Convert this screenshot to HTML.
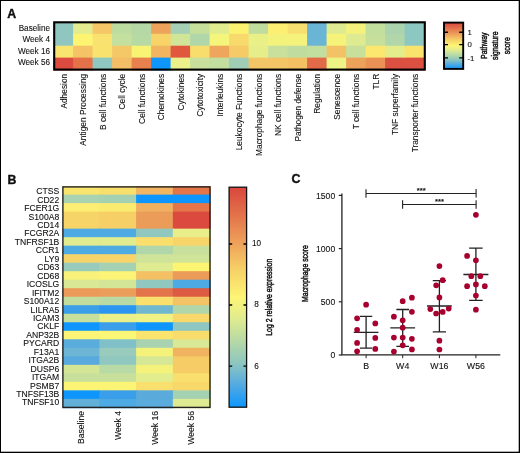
<!DOCTYPE html>
<html><head><meta charset="utf-8"><title>Figure</title>
<style>html,body{margin:0;padding:0;background:#fff;width:520px;height:453px;overflow:hidden}
svg text{font-family:"Liberation Sans", sans-serif;fill:#111;stroke:#111;stroke-width:0.1px}</style></head>
<body>
<svg width="520" height="453" viewBox="0 0 520 453" style="position:absolute;left:0;top:0;will-change:transform">
<defs>
<linearGradient id="g1" x1="0" y1="0" x2="0" y2="1"><stop offset="0" stop-color="#d9473d"/><stop offset="0.12" stop-color="#e2704a"/><stop offset="0.25" stop-color="#eea05a"/><stop offset="0.37" stop-color="#f6cf66"/><stop offset="0.5" stop-color="#fdf575"/><stop offset="0.6" stop-color="#dfeb90"/><stop offset="0.7" stop-color="#b6d9a6"/><stop offset="0.8" stop-color="#8ec6c0"/><stop offset="0.9" stop-color="#52aae2"/><stop offset="1" stop-color="#0c96fd"/></linearGradient>
</defs>
<rect width="520" height="453" fill="#fff"/>
<text x="7.2" y="18.4" font-size="12.3" font-weight="bold" style="stroke-width:0.4px">A</text>
<rect x="53.6" y="21.9" width="20.5" height="12.9" fill="#8fc7c0"/>
<rect x="53.6" y="33.8" width="20.5" height="12.9" fill="#8fc7c0"/>
<rect x="53.6" y="45.7" width="20.5" height="12.9" fill="#fae470"/>
<rect x="53.6" y="57.6" width="20.5" height="12.9" fill="#db4b3f"/>
<rect x="73.1" y="21.9" width="20.5" height="12.9" fill="#e3ec8e"/>
<rect x="73.1" y="33.8" width="20.5" height="12.9" fill="#fdf572"/>
<rect x="73.1" y="45.7" width="20.5" height="12.9" fill="#f4c366"/>
<rect x="73.1" y="57.6" width="20.5" height="12.9" fill="#e57149"/>
<rect x="92.6" y="21.9" width="20.5" height="12.9" fill="#f5c766"/>
<rect x="92.6" y="33.8" width="20.5" height="12.9" fill="#f9e270"/>
<rect x="92.6" y="45.7" width="20.5" height="12.9" fill="#f9e36e"/>
<rect x="92.6" y="57.6" width="20.5" height="12.9" fill="#8fc8c0"/>
<rect x="112.1" y="21.9" width="20.5" height="12.9" fill="#bddca0"/>
<rect x="112.1" y="33.8" width="20.5" height="12.9" fill="#c3e09e"/>
<rect x="112.1" y="45.7" width="20.5" height="12.9" fill="#f4c767"/>
<rect x="112.1" y="57.6" width="20.5" height="12.9" fill="#f4be66"/>
<rect x="131.6" y="21.9" width="20.5" height="12.9" fill="#b5d8a5"/>
<rect x="131.6" y="33.8" width="20.5" height="12.9" fill="#b7d9a4"/>
<rect x="131.6" y="45.7" width="20.5" height="12.9" fill="#f9f373"/>
<rect x="131.6" y="57.6" width="20.5" height="12.9" fill="#e8804e"/>
<rect x="151.1" y="21.9" width="20.5" height="12.9" fill="#eda45a"/>
<rect x="151.1" y="33.8" width="20.5" height="12.9" fill="#f8d468"/>
<rect x="151.1" y="45.7" width="20.5" height="12.9" fill="#f1b460"/>
<rect x="151.1" y="57.6" width="20.5" height="12.9" fill="#0f96fc"/>
<rect x="170.6" y="21.9" width="20.5" height="12.9" fill="#a5d0b5"/>
<rect x="170.6" y="33.8" width="20.5" height="12.9" fill="#d1e598"/>
<rect x="170.6" y="45.7" width="20.5" height="12.9" fill="#e0593f"/>
<rect x="170.6" y="57.6" width="20.5" height="12.9" fill="#ecf08a"/>
<rect x="190.1" y="21.9" width="20.5" height="12.9" fill="#c6e09c"/>
<rect x="190.1" y="33.8" width="20.5" height="12.9" fill="#b0d6aa"/>
<rect x="190.1" y="45.7" width="20.5" height="12.9" fill="#f8dc6c"/>
<rect x="190.1" y="57.6" width="20.5" height="12.9" fill="#c8e09c"/>
<rect x="209.6" y="21.9" width="20.5" height="12.9" fill="#e1ec8e"/>
<rect x="209.6" y="33.8" width="20.5" height="12.9" fill="#f5f47b"/>
<rect x="209.6" y="45.7" width="20.5" height="12.9" fill="#eda65c"/>
<rect x="209.6" y="57.6" width="20.5" height="12.9" fill="#c3df9f"/>
<rect x="229.1" y="21.9" width="20.5" height="12.9" fill="#fcf272"/>
<rect x="229.1" y="33.8" width="20.5" height="12.9" fill="#f8d96c"/>
<rect x="229.1" y="45.7" width="20.5" height="12.9" fill="#f5ca67"/>
<rect x="229.1" y="57.6" width="20.5" height="12.9" fill="#9fcdb6"/>
<rect x="248.6" y="21.9" width="20.5" height="12.9" fill="#c0dd9e"/>
<rect x="248.6" y="33.8" width="20.5" height="12.9" fill="#eaf088"/>
<rect x="248.6" y="45.7" width="20.5" height="12.9" fill="#e6ee8a"/>
<rect x="248.6" y="57.6" width="20.5" height="12.9" fill="#f3c566"/>
<rect x="268.1" y="21.9" width="20.5" height="12.9" fill="#fdef72"/>
<rect x="268.1" y="33.8" width="20.5" height="12.9" fill="#f3f27d"/>
<rect x="268.1" y="45.7" width="20.5" height="12.9" fill="#c8e09c"/>
<rect x="268.1" y="57.6" width="20.5" height="12.9" fill="#f3c566"/>
<rect x="287.6" y="21.9" width="20.5" height="12.9" fill="#f8e070"/>
<rect x="287.6" y="33.8" width="20.5" height="12.9" fill="#f5f27b"/>
<rect x="287.6" y="45.7" width="20.5" height="12.9" fill="#c0dd9f"/>
<rect x="287.6" y="57.6" width="20.5" height="12.9" fill="#f3c064"/>
<rect x="307.1" y="21.9" width="20.5" height="12.9" fill="#6ab5d5"/>
<rect x="307.1" y="33.8" width="20.5" height="12.9" fill="#6ab5d5"/>
<rect x="307.1" y="45.7" width="20.5" height="12.9" fill="#c3df9f"/>
<rect x="307.1" y="57.6" width="20.5" height="12.9" fill="#e26a48"/>
<rect x="326.6" y="21.9" width="20.5" height="12.9" fill="#dfeb90"/>
<rect x="326.6" y="33.8" width="20.5" height="12.9" fill="#f5f37a"/>
<rect x="326.6" y="45.7" width="20.5" height="12.9" fill="#f3c266"/>
<rect x="326.6" y="57.6" width="20.5" height="12.9" fill="#eef385"/>
<rect x="346.1" y="21.9" width="20.5" height="12.9" fill="#f4f27c"/>
<rect x="346.1" y="33.8" width="20.5" height="12.9" fill="#dfeb90"/>
<rect x="346.1" y="45.7" width="20.5" height="12.9" fill="#c8e09c"/>
<rect x="346.1" y="57.6" width="20.5" height="12.9" fill="#eda25a"/>
<rect x="365.6" y="21.9" width="20.5" height="12.9" fill="#c3df9e"/>
<rect x="365.6" y="33.8" width="20.5" height="12.9" fill="#c6e09c"/>
<rect x="365.6" y="45.7" width="20.5" height="12.9" fill="#fde86f"/>
<rect x="365.6" y="57.6" width="20.5" height="12.9" fill="#ea9156"/>
<rect x="385.1" y="21.9" width="20.5" height="12.9" fill="#aad3ae"/>
<rect x="385.1" y="33.8" width="20.5" height="12.9" fill="#b0d6aa"/>
<rect x="385.1" y="45.7" width="20.5" height="12.9" fill="#e4ed8c"/>
<rect x="385.1" y="57.6" width="20.5" height="12.9" fill="#dc5042"/>
<rect x="404.6" y="21.9" width="20.5" height="12.9" fill="#8dc7c2"/>
<rect x="404.6" y="33.8" width="20.5" height="12.9" fill="#8dc7c2"/>
<rect x="404.6" y="45.7" width="20.5" height="12.9" fill="#fae36d"/>
<rect x="404.6" y="57.6" width="20.5" height="12.9" fill="#dc5042"/>
<rect x="54.2" y="22.3" width="370.6" height="47.3" fill="none" stroke="#000" stroke-width="2.1"/>
<text transform="translate(50.0,30.6) scale(0.93,1)" font-size="8.8" text-anchor="end">Baseline</text>
<text transform="translate(50.0,41.9) scale(0.93,1)" font-size="8.8" text-anchor="end">Week 4</text>
<text transform="translate(50.0,53.6) scale(0.93,1)" font-size="8.8" text-anchor="end">Week 16</text>
<text transform="translate(50.0,65.2) scale(0.93,1)" font-size="8.8" text-anchor="end">Week 56</text>
<text transform="translate(66.95,73.8) rotate(-90)" font-size="8.35" text-anchor="end">Adhesion</text>
<text transform="translate(86.45,73.8) rotate(-90)" font-size="8.35" text-anchor="end">Antigen Processing</text>
<text transform="translate(105.95,73.8) rotate(-90)" font-size="8.35" text-anchor="end">B cell functions</text>
<text transform="translate(125.45,73.8) rotate(-90)" font-size="8.35" text-anchor="end">Cell cycle</text>
<text transform="translate(144.95,73.8) rotate(-90)" font-size="8.35" text-anchor="end">Cell functions</text>
<text transform="translate(164.45,73.8) rotate(-90)" font-size="8.35" text-anchor="end">Chemokines</text>
<text transform="translate(183.95,73.8) rotate(-90)" font-size="8.35" text-anchor="end">Cytokines</text>
<text transform="translate(203.45,73.8) rotate(-90)" font-size="8.35" text-anchor="end">Cytotoxicity</text>
<text transform="translate(222.95,73.8) rotate(-90)" font-size="8.35" text-anchor="end">Interleukins</text>
<text transform="translate(242.45,73.8) rotate(-90)" font-size="8.35" text-anchor="end">Leukocyte Functions</text>
<text transform="translate(261.95,73.8) rotate(-90)" font-size="8.35" text-anchor="end">Macrophage functions</text>
<text transform="translate(281.45,73.8) rotate(-90)" font-size="8.35" text-anchor="end">NK cell functions</text>
<text transform="translate(300.95,73.8) rotate(-90)" font-size="8.35" text-anchor="end">Pathogen defense</text>
<text transform="translate(320.45,73.8) rotate(-90)" font-size="8.35" text-anchor="end">Regulation</text>
<text transform="translate(339.95,73.8) rotate(-90)" font-size="8.35" text-anchor="end">Senescence</text>
<text transform="translate(359.45,73.8) rotate(-90)" font-size="8.35" text-anchor="end">T cell functions</text>
<text transform="translate(378.95,73.8) rotate(-90)" font-size="8.35" text-anchor="end">TLR</text>
<text transform="translate(398.45,73.8) rotate(-90)" font-size="8.35" text-anchor="end">TNF superfamily</text>
<text transform="translate(417.95,73.8) rotate(-90)" font-size="8.35" text-anchor="end">Transporter functions</text>
<rect x="444" y="22.6" width="19.2" height="46.3" fill="url(#g1)" stroke="#000" stroke-width="1.9"/>
<path d="M444 32.25 h4 M463.2 32.25 h-4" stroke="#000" stroke-width="1.4"/>
<path d="M444 44.6 h4 M463.2 44.6 h-4" stroke="#000" stroke-width="1.4"/>
<path d="M444 57.9 h4 M463.2 57.9 h-4" stroke="#000" stroke-width="1.4"/>
<text x="467.4" y="35.05" font-size="7.8">1</text>
<text x="467.4" y="47.4" font-size="7.8">0</text>
<text x="467.4" y="60.7" font-size="7.8">-1</text>
<text transform="translate(486.9,45.7) rotate(-90) scale(0.75,1)" font-size="9.2" text-anchor="middle" style="stroke-width:0.45px">Pathway</text>
<text transform="translate(497.9,45.7) rotate(-90) scale(0.75,1)" font-size="9.2" text-anchor="middle" style="stroke-width:0.45px">signature</text>
<text transform="translate(510.1,45.7) rotate(-90) scale(0.75,1)" font-size="9.2" text-anchor="middle" style="stroke-width:0.45px">score</text>
<text x="7.4" y="183.5" font-size="12.3" font-weight="bold" style="stroke-width:0.4px">B</text>
<rect x="62.6" y="186.1" width="37.75" height="9.51" fill="#f9e46e"/>
<rect x="99.35" y="186.1" width="37.75" height="9.51" fill="#f8df6c"/>
<rect x="136.1" y="186.1" width="37.75" height="9.51" fill="#f2b562"/>
<rect x="172.85" y="186.1" width="37.75" height="9.51" fill="#e47548"/>
<rect x="62.6" y="194.61" width="37.75" height="9.51" fill="#a9d3b0"/>
<rect x="99.35" y="194.61" width="37.75" height="9.51" fill="#a5d1b3"/>
<rect x="136.1" y="194.61" width="37.75" height="9.51" fill="#0c95fd"/>
<rect x="172.85" y="194.61" width="37.75" height="9.51" fill="#0c95fd"/>
<rect x="62.6" y="203.12" width="37.75" height="9.51" fill="#fcee72"/>
<rect x="99.35" y="203.12" width="37.75" height="9.51" fill="#fbea70"/>
<rect x="136.1" y="203.12" width="37.75" height="9.51" fill="#f0b060"/>
<rect x="172.85" y="203.12" width="37.75" height="9.51" fill="#e47548"/>
<rect x="62.6" y="211.63" width="37.75" height="9.51" fill="#f7d468"/>
<rect x="99.35" y="211.63" width="37.75" height="9.51" fill="#f6d066"/>
<rect x="136.1" y="211.63" width="37.75" height="9.51" fill="#eb9c58"/>
<rect x="172.85" y="211.63" width="37.75" height="9.51" fill="#db4a3e"/>
<rect x="62.6" y="220.14" width="37.75" height="9.51" fill="#f7d468"/>
<rect x="99.35" y="220.14" width="37.75" height="9.51" fill="#f6d066"/>
<rect x="136.1" y="220.14" width="37.75" height="9.51" fill="#eb9c58"/>
<rect x="172.85" y="220.14" width="37.75" height="9.51" fill="#db4a3e"/>
<rect x="62.6" y="228.65" width="37.75" height="9.51" fill="#4eaae2"/>
<rect x="99.35" y="228.65" width="37.75" height="9.51" fill="#4eaae2"/>
<rect x="136.1" y="228.65" width="37.75" height="9.51" fill="#90c8c0"/>
<rect x="172.85" y="228.65" width="37.75" height="9.51" fill="#e8ef8a"/>
<rect x="62.6" y="237.16" width="37.75" height="9.51" fill="#e0ec8e"/>
<rect x="99.35" y="237.16" width="37.75" height="9.51" fill="#e0ec8e"/>
<rect x="136.1" y="237.16" width="37.75" height="9.51" fill="#fbdf6c"/>
<rect x="172.85" y="237.16" width="37.75" height="9.51" fill="#f8d56a"/>
<rect x="62.6" y="245.67" width="37.75" height="9.51" fill="#4eaae2"/>
<rect x="99.35" y="245.67" width="37.75" height="9.51" fill="#4eaae2"/>
<rect x="136.1" y="245.67" width="37.75" height="9.51" fill="#b0d6aa"/>
<rect x="172.85" y="245.67" width="37.75" height="9.51" fill="#c8e09c"/>
<rect x="62.6" y="254.18" width="37.75" height="9.51" fill="#f7d46a"/>
<rect x="99.35" y="254.18" width="37.75" height="9.51" fill="#f7d46a"/>
<rect x="136.1" y="254.18" width="37.75" height="9.51" fill="#cfe399"/>
<rect x="172.85" y="254.18" width="37.75" height="9.51" fill="#cfe399"/>
<rect x="62.6" y="262.69" width="37.75" height="9.51" fill="#98cbbb"/>
<rect x="99.35" y="262.69" width="37.75" height="9.51" fill="#a5d1b3"/>
<rect x="136.1" y="262.69" width="37.75" height="9.51" fill="#dfeb90"/>
<rect x="172.85" y="262.69" width="37.75" height="9.51" fill="#fdf572"/>
<rect x="62.6" y="271.2" width="37.75" height="9.51" fill="#f8f27a"/>
<rect x="99.35" y="271.2" width="37.75" height="9.51" fill="#fbf476"/>
<rect x="136.1" y="271.2" width="37.75" height="9.51" fill="#f3c064"/>
<rect x="172.85" y="271.2" width="37.75" height="9.51" fill="#eb9c58"/>
<rect x="62.6" y="279.71" width="37.75" height="9.51" fill="#d8e894"/>
<rect x="99.35" y="279.71" width="37.75" height="9.51" fill="#d3e697"/>
<rect x="136.1" y="279.71" width="37.75" height="9.51" fill="#90c8c0"/>
<rect x="172.85" y="279.71" width="37.75" height="9.51" fill="#4eaae2"/>
<rect x="62.6" y="288.22" width="37.75" height="9.51" fill="#eb9a58"/>
<rect x="99.35" y="288.22" width="37.75" height="9.51" fill="#eb9e59"/>
<rect x="136.1" y="288.22" width="37.75" height="9.51" fill="#e3734a"/>
<rect x="172.85" y="288.22" width="37.75" height="9.51" fill="#dd5a43"/>
<rect x="62.6" y="296.73" width="37.75" height="9.51" fill="#c0dd9e"/>
<rect x="99.35" y="296.73" width="37.75" height="9.51" fill="#b8daa4"/>
<rect x="136.1" y="296.73" width="37.75" height="9.51" fill="#fbe06e"/>
<rect x="172.85" y="296.73" width="37.75" height="9.51" fill="#f3c365"/>
<rect x="62.6" y="305.24" width="37.75" height="9.51" fill="#3a9ee8"/>
<rect x="99.35" y="305.24" width="37.75" height="9.51" fill="#2a96f2"/>
<rect x="136.1" y="305.24" width="37.75" height="9.51" fill="#70b8d0"/>
<rect x="172.85" y="305.24" width="37.75" height="9.51" fill="#b0d6aa"/>
<rect x="62.6" y="313.75" width="37.75" height="9.51" fill="#c8e09c"/>
<rect x="99.35" y="313.75" width="37.75" height="9.51" fill="#ecf088"/>
<rect x="136.1" y="313.75" width="37.75" height="9.51" fill="#f0f284"/>
<rect x="172.85" y="313.75" width="37.75" height="9.51" fill="#f8d86b"/>
<rect x="62.6" y="322.26" width="37.75" height="9.51" fill="#0f96fc"/>
<rect x="99.35" y="322.26" width="37.75" height="9.51" fill="#3a9eea"/>
<rect x="136.1" y="322.26" width="37.75" height="9.51" fill="#0f96fc"/>
<rect x="172.85" y="322.26" width="37.75" height="9.51" fill="#8ec6c2"/>
<rect x="62.6" y="330.77" width="37.75" height="9.51" fill="#fbf476"/>
<rect x="99.35" y="330.77" width="37.75" height="9.51" fill="#fcf676"/>
<rect x="136.1" y="330.77" width="37.75" height="9.51" fill="#fae46e"/>
<rect x="172.85" y="330.77" width="37.75" height="9.51" fill="#f8dc6c"/>
<rect x="62.6" y="339.28" width="37.75" height="9.51" fill="#5aacdc"/>
<rect x="99.35" y="339.28" width="37.75" height="9.51" fill="#80c0c8"/>
<rect x="136.1" y="339.28" width="37.75" height="9.51" fill="#a8d2b0"/>
<rect x="172.85" y="339.28" width="37.75" height="9.51" fill="#d8e894"/>
<rect x="62.6" y="347.79" width="37.75" height="9.51" fill="#6cb5d4"/>
<rect x="99.35" y="347.79" width="37.75" height="9.51" fill="#98cbbb"/>
<rect x="136.1" y="347.79" width="37.75" height="9.51" fill="#f5f27b"/>
<rect x="172.85" y="347.79" width="37.75" height="9.51" fill="#f0b360"/>
<rect x="62.6" y="356.3" width="37.75" height="9.51" fill="#58aade"/>
<rect x="99.35" y="356.3" width="37.75" height="9.51" fill="#90c8c0"/>
<rect x="136.1" y="356.3" width="37.75" height="9.51" fill="#d6e795"/>
<rect x="172.85" y="356.3" width="37.75" height="9.51" fill="#f6cc66"/>
<rect x="62.6" y="364.81" width="37.75" height="9.51" fill="#d4e696"/>
<rect x="99.35" y="364.81" width="37.75" height="9.51" fill="#b8daa4"/>
<rect x="136.1" y="364.81" width="37.75" height="9.51" fill="#f5f27b"/>
<rect x="172.85" y="364.81" width="37.75" height="9.51" fill="#f6cc66"/>
<rect x="62.6" y="373.32" width="37.75" height="9.51" fill="#c8e09c"/>
<rect x="99.35" y="373.32" width="37.75" height="9.51" fill="#c8e09c"/>
<rect x="136.1" y="373.32" width="37.75" height="9.51" fill="#e2ed8d"/>
<rect x="172.85" y="373.32" width="37.75" height="9.51" fill="#f9e06e"/>
<rect x="62.6" y="381.83" width="37.75" height="9.51" fill="#fcf474"/>
<rect x="99.35" y="381.83" width="37.75" height="9.51" fill="#fcf474"/>
<rect x="136.1" y="381.83" width="37.75" height="9.51" fill="#f9df6d"/>
<rect x="172.85" y="381.83" width="37.75" height="9.51" fill="#f8d86b"/>
<rect x="62.6" y="390.34" width="37.75" height="9.51" fill="#0f96fc"/>
<rect x="99.35" y="390.34" width="37.75" height="9.51" fill="#3a9eea"/>
<rect x="136.1" y="390.34" width="37.75" height="9.51" fill="#5aaadc"/>
<rect x="172.85" y="390.34" width="37.75" height="9.51" fill="#a5d1b3"/>
<rect x="62.6" y="398.85" width="37.75" height="9.51" fill="#62b0d8"/>
<rect x="99.35" y="398.85" width="37.75" height="9.51" fill="#4eaae2"/>
<rect x="136.1" y="398.85" width="37.75" height="9.51" fill="#5aacdc"/>
<rect x="172.85" y="398.85" width="37.75" height="9.51" fill="#dfeb90"/>
<rect x="62.9" y="186.9" width="147.1" height="220.5" fill="none" stroke="#222" stroke-width="1.4"/>
<text x="59.2" y="194.2" font-size="8.6" text-anchor="end">CTSS</text>
<text x="59.2" y="202.65" font-size="8.6" text-anchor="end">CD22</text>
<text x="59.2" y="211.1" font-size="8.6" text-anchor="end">FCER1G</text>
<text x="59.2" y="219.55" font-size="8.6" text-anchor="end">S100A8</text>
<text x="59.2" y="228" font-size="8.6" text-anchor="end">CD14</text>
<text x="59.2" y="236.45" font-size="8.6" text-anchor="end">FCGR2A</text>
<text x="59.2" y="244.9" font-size="8.6" text-anchor="end">TNFRSF1B</text>
<text x="59.2" y="253.35" font-size="8.6" text-anchor="end">CCR1</text>
<text x="59.2" y="261.8" font-size="8.6" text-anchor="end">LY9</text>
<text x="59.2" y="270.25" font-size="8.6" text-anchor="end">CD63</text>
<text x="59.2" y="278.7" font-size="8.6" text-anchor="end">CD68</text>
<text x="59.2" y="287.15" font-size="8.6" text-anchor="end">ICOSLG</text>
<text x="59.2" y="295.6" font-size="8.6" text-anchor="end">IFITM2</text>
<text x="59.2" y="304.05" font-size="8.6" text-anchor="end">S100A12</text>
<text x="59.2" y="312.5" font-size="8.6" text-anchor="end">LILRA5</text>
<text x="59.2" y="320.95" font-size="8.6" text-anchor="end">ICAM3</text>
<text x="59.2" y="329.4" font-size="8.6" text-anchor="end">CKLF</text>
<text x="59.2" y="337.85" font-size="8.6" text-anchor="end">ANP32B</text>
<text x="59.2" y="346.3" font-size="8.6" text-anchor="end">PYCARD</text>
<text x="59.2" y="354.75" font-size="8.6" text-anchor="end">F13A1</text>
<text x="59.2" y="363.2" font-size="8.6" text-anchor="end">ITGA2B</text>
<text x="59.2" y="371.65" font-size="8.6" text-anchor="end">DUSP6</text>
<text x="59.2" y="380.1" font-size="8.6" text-anchor="end">ITGAM</text>
<text x="59.2" y="388.55" font-size="8.6" text-anchor="end">PSMB7</text>
<text x="59.2" y="397" font-size="8.6" text-anchor="end">TNFSF13B</text>
<text x="59.2" y="405.45" font-size="8.6" text-anchor="end">TNFSF10</text>
<text transform="translate(84.07,411) rotate(-90)" font-size="8.6" text-anchor="end">Baseline</text>
<text transform="translate(120.82,411) rotate(-90)" font-size="8.6" text-anchor="end">Week 4</text>
<text transform="translate(157.57,411) rotate(-90)" font-size="8.6" text-anchor="end">Week 16</text>
<text transform="translate(194.32,411) rotate(-90)" font-size="8.6" text-anchor="end">Week 56</text>
<rect x="229.1" y="187.2" width="17.5" height="220" fill="url(#g1)" stroke="#111" stroke-width="1.3"/>
<path d="M229.1 244 h3.1 M246.6 244 h-3.1" stroke="#000" stroke-width="1.3"/>
<path d="M229.1 305 h3.1 M246.6 305 h-3.1" stroke="#000" stroke-width="1.3"/>
<path d="M229.1 366.2 h3.1 M246.6 366.2 h-3.1" stroke="#000" stroke-width="1.3"/>
<text x="256.6" y="246.4" font-size="8.2" text-anchor="middle">10</text>
<text x="256.6" y="307.4" font-size="8.2" text-anchor="middle">8</text>
<text x="256.6" y="368.6" font-size="8.2" text-anchor="middle">6</text>
<text transform="translate(272.2,297.25) rotate(-90) scale(0.772,1)" font-size="9" text-anchor="middle" style="stroke-width:0.45px">Log 2 relative expression</text>
<text x="291.6" y="183.3" font-size="12.3" font-weight="bold" style="stroke-width:0.4px">C</text>
<path d="M341.9 193.5 V354.9 H500.3" fill="none" stroke="#222" stroke-width="1.3"/>
<path d="M338.8 355 H341.9" stroke="#222" stroke-width="1.2"/>
<text x="335.2" y="358.2" font-size="8.6" text-anchor="end">0</text>
<path d="M338.8 301.8 H341.9" stroke="#222" stroke-width="1.2"/>
<text x="335.2" y="305" font-size="8.6" text-anchor="end">500</text>
<path d="M338.8 248.6 H341.9" stroke="#222" stroke-width="1.2"/>
<text x="335.2" y="251.8" font-size="8.6" text-anchor="end">1000</text>
<path d="M338.8 195.4 H341.9" stroke="#222" stroke-width="1.2"/>
<text x="335.2" y="198.6" font-size="8.6" text-anchor="end">1500</text>
<text transform="translate(308.2,273.5) rotate(-90) scale(0.762,1)" font-size="9" text-anchor="middle" style="stroke-width:0.45px">Macrophage score</text>
<path d="M366.1 354.9 V358.2" stroke="#222" stroke-width="1"/>
<text x="366.1" y="368.8" font-size="8.8" text-anchor="middle">B</text>
<path d="M402.7 354.9 V358.2" stroke="#222" stroke-width="1"/>
<text x="402.7" y="368.8" font-size="8.8" text-anchor="middle">W4</text>
<path d="M439.4 354.9 V358.2" stroke="#222" stroke-width="1"/>
<text x="439.4" y="368.8" font-size="8.8" text-anchor="middle">W16</text>
<path d="M475.9 354.9 V358.2" stroke="#222" stroke-width="1"/>
<text x="475.9" y="368.8" font-size="8.8" text-anchor="middle">W56</text>
<path d="M353.75 332.3 h24.7 M366.1 316.4 V348.2 M359.95 316.4 h12.3 M359.95 348.2 h12.3" stroke="#222" stroke-width="1.3" fill="none"/>
<path d="M390.3 327.9 h24.8 M402.7 309.5 V346.4 M396.35 309.5 h12.7 M396.35 346.4 h12.7" stroke="#222" stroke-width="1.3" fill="none"/>
<path d="M427 306 h24.8 M439.4 280.6 V331.8 M432.8 280.6 h13.2 M432.8 331.8 h13.2" stroke="#222" stroke-width="1.3" fill="none"/>
<path d="M463.4 274.5 h25 M475.9 248.2 V300.4 M469.15 248.2 h13.5 M469.15 300.4 h13.5" stroke="#222" stroke-width="1.3" fill="none"/>
<circle cx="366.1" cy="304.7" r="2.85" fill="#a8002e"/>
<circle cx="357.1" cy="318.3" r="2.85" fill="#a8002e"/>
<circle cx="375.3" cy="323.4" r="2.85" fill="#a8002e"/>
<circle cx="357.1" cy="329.8" r="2.85" fill="#a8002e"/>
<circle cx="375.3" cy="337.9" r="2.85" fill="#a8002e"/>
<circle cx="357.1" cy="342.9" r="2.85" fill="#a8002e"/>
<circle cx="375.3" cy="348.9" r="2.85" fill="#a8002e"/>
<circle cx="357.1" cy="351.3" r="2.85" fill="#a8002e"/>
<circle cx="411.9" cy="297.7" r="2.85" fill="#a8002e"/>
<circle cx="402.7" cy="301.2" r="2.85" fill="#a8002e"/>
<circle cx="411.9" cy="311.8" r="2.85" fill="#a8002e"/>
<circle cx="393.9" cy="316.7" r="2.85" fill="#a8002e"/>
<circle cx="402.7" cy="320.3" r="2.85" fill="#a8002e"/>
<circle cx="402.7" cy="327.7" r="2.85" fill="#a8002e"/>
<circle cx="393.9" cy="337.6" r="2.85" fill="#a8002e"/>
<circle cx="402.7" cy="337.6" r="2.85" fill="#a8002e"/>
<circle cx="411.9" cy="338.8" r="2.85" fill="#a8002e"/>
<circle cx="402.7" cy="345.3" r="2.85" fill="#a8002e"/>
<circle cx="411.9" cy="349.4" r="2.85" fill="#a8002e"/>
<circle cx="393.9" cy="351.5" r="2.85" fill="#a8002e"/>
<circle cx="439.4" cy="266.1" r="2.85" fill="#a8002e"/>
<circle cx="442.7" cy="280.2" r="2.85" fill="#a8002e"/>
<circle cx="436.2" cy="285.3" r="2.85" fill="#a8002e"/>
<circle cx="439.4" cy="297.4" r="2.85" fill="#a8002e"/>
<circle cx="430.3" cy="309.1" r="2.85" fill="#a8002e"/>
<circle cx="436.1" cy="313.5" r="2.85" fill="#a8002e"/>
<circle cx="442.7" cy="311.9" r="2.85" fill="#a8002e"/>
<circle cx="448.7" cy="308.6" r="2.85" fill="#a8002e"/>
<circle cx="439.4" cy="340.7" r="2.85" fill="#a8002e"/>
<circle cx="439.4" cy="349.5" r="2.85" fill="#a8002e"/>
<circle cx="475.9" cy="214.8" r="2.85" fill="#a8002e"/>
<circle cx="467.1" cy="255.9" r="2.85" fill="#a8002e"/>
<circle cx="475.9" cy="260.3" r="2.85" fill="#a8002e"/>
<circle cx="471.3" cy="276.2" r="2.85" fill="#a8002e"/>
<circle cx="480.3" cy="276.2" r="2.85" fill="#a8002e"/>
<circle cx="467.1" cy="286.2" r="2.85" fill="#a8002e"/>
<circle cx="475.9" cy="284.4" r="2.85" fill="#a8002e"/>
<circle cx="484.8" cy="286.2" r="2.85" fill="#a8002e"/>
<circle cx="475.9" cy="295.5" r="2.85" fill="#a8002e"/>
<circle cx="475.9" cy="309.7" r="2.85" fill="#a8002e"/>
<path d="M366 193.5 H476.1 M366 189.2 V197.8 M476.1 189.1 V197.5" stroke="#222" stroke-width="1.1" fill="none"/>
<path d="M402.6 204.5 H476.1 M402.6 200.3 V208.8 M476.1 200.3 V208.8" stroke="#222" stroke-width="1.1" fill="none"/>
<text x="421.2" y="192.9" font-size="7.6" font-weight="bold" text-anchor="middle">***</text>
<text x="439.5" y="203.5" font-size="7.6" font-weight="bold" text-anchor="middle">***</text>
<rect x="0" y="0" width="520" height="1" fill="#000"/>
<rect x="0" y="0" width="1" height="453" fill="#000"/>
<rect x="518.7" y="0" width="1.3" height="453" fill="#000"/>
<rect x="0" y="451.7" width="520" height="1.3" fill="#000"/>
</svg>
</body></html>
